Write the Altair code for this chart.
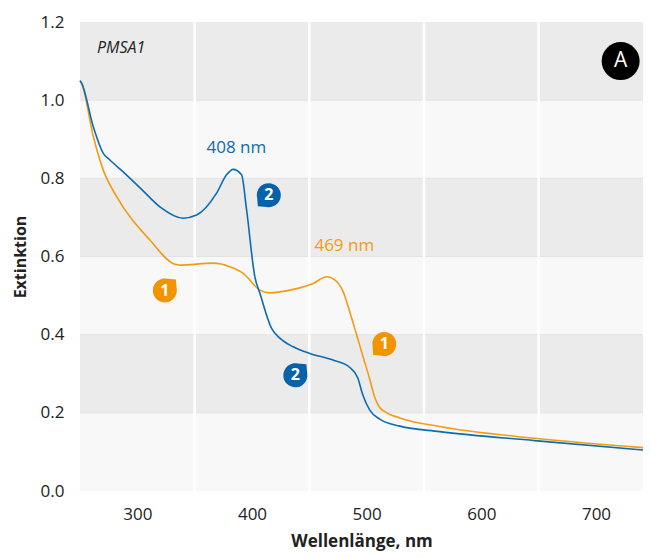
import altair as alt
import pandas as pd

# ---- data ----
blue_x = [250, 251.5, 261.6, 270.3, 276.1, 290, 305, 319.7, 340.0, 351.7, 369.1, 377.8, 383.6, 390.9,
          395.3, 402.5, 406.9, 417.1, 424.3, 435.9, 450.4, 470.7, 485.3, 492.3, 496.6, 502.7,
          511.4, 528.9, 563.7, 646.5, 741]
blue_y = [1.05, 1.043, 0.932, 0.864, 0.847, 0.810, 0.768, 0.727, 0.698, 0.706, 0.762, 0.809, 0.823, 0.809,
          0.719, 0.548, 0.506, 0.416, 0.391, 0.369, 0.352, 0.335, 0.316, 0.289, 0.246, 0.207,
          0.184, 0.166, 0.152, 0.129, 0.105]

orange_x = [250, 251.5, 261.6, 270.3, 282.0, 311.0, 332.8, 337.1, 366.2, 380.7, 392.3, 406.9, 415.6,
            433.0, 453.3, 465.0, 472.2, 479.5, 485.3, 491.1, 496.9, 502.7, 507.0, 511.0, 515.8, 528.9,
            563.7, 646.5, 741]
orange_y = [1.05, 1.043, 0.907, 0.821, 0.753, 0.642, 0.580, 0.578, 0.583, 0.574, 0.557, 0.514, 0.507,
            0.514, 0.531, 0.548, 0.540, 0.510, 0.458, 0.401, 0.343, 0.286, 0.240, 0.215, 0.203, 0.187,
            0.165, 0.135, 0.111]

band_lo = [0.0, 0.2, 0.4, 0.6, 0.8, 1.0]
band_hi = [0.2, 0.4, 0.6, 0.8, 1.0, 1.2]
band_col = ["#f8f8f8", "#ebebeb", "#f8f8f8", "#ebebeb", "#f8f8f8", "#ebebeb"]
hline_y = [0.2, 0.4, 0.6, 0.8, 1.0]
vline_x = [350, 450, 550, 650]

peak_text = ["408 nm", "469 nm"]
peak_x = [386.4, 480.5]
peak_y = [0.878, 0.627]
peak_col = ["#0a6cb5", "#f39c12"]

mark_lbl = ["1", "1", "2", "2"]
mark_x = [324.0, 515.4, 437.8, 414.7]
mark_y = [0.513, 0.376, 0.296, 0.757]
mark_col = ["#f29400", "#f29400", "#0862ab", "#0862ab"]
TAIL_TR = "M 0.92 -0.92 L 0.98 -0.2 A 1 1 0 1 1 0.2 -0.98 Z"
TAIL_BL = "M -0.92 0.92 L -0.98 0.2 A 1 1 0 1 1 -0.2 0.98 Z"
mark_shape = [TAIL_TR, TAIL_BL, TAIL_TR, TAIL_BL]

FONT = "Open Sans"
W, H = 563, 469
xs = alt.Scale(domain=[250, 741], nice=False, zero=False)
ys = alt.Scale(domain=[0, 1.2], nice=False, zero=False)

bands = pd.DataFrame({"y0": band_lo, "y1": band_hi, "c": band_col})
band_layer = alt.Chart(bands).mark_rect().encode(
    x=alt.value(0), x2=alt.value(W),
    y=alt.Y("y0:Q", scale=ys, axis=alt.Axis(
        values=[0, 0.2, 0.4, 0.6, 0.8, 1.0, 1.2], format=".1f", title="Extinktion",
        grid=False, ticks=False, domain=False, labelPadding=16, titlePadding=12,
        labelFontSize=17, titleFontSize=16, titleFontWeight="bold")),
    y2="y1:Q",
    color=alt.Color("c:N", scale=None),
)

hl = alt.Chart(pd.DataFrame({"y": hline_y})).mark_rule(color="#e2e2e2", strokeWidth=1).encode(
    y=alt.Y("y:Q", scale=ys))
vl = alt.Chart(pd.DataFrame({"x": vline_x})).mark_rule(color="white", strokeWidth=2.5).encode(
    x=alt.X("x:Q", scale=xs, axis=alt.Axis(
        values=[300, 400, 500, 600, 700], format="d", title="Wellenlänge, nm",
        grid=False, ticks=False, domain=False, labelPadding=15, titlePadding=11,
        labelFontSize=17, titleFontSize=17, titleFontWeight="bold")))

odf = pd.DataFrame({"x": orange_x, "y": orange_y})
bdf = pd.DataFrame({"x": blue_x, "y": blue_y})
oline = alt.Chart(odf).mark_line(color="#f39c12", strokeWidth=1.6, interpolate="monotone").encode(
    x=alt.X("x:Q", scale=xs), y=alt.Y("y:Q", scale=ys))
bline = alt.Chart(bdf).mark_line(color="#0a6cb5", strokeWidth=1.6, interpolate="monotone").encode(
    x=alt.X("x:Q", scale=xs), y=alt.Y("y:Q", scale=ys))

pdf = pd.DataFrame({"t": peak_text, "x": peak_x, "y": peak_y, "c": peak_col})
ptext = alt.Chart(pdf).mark_text(font=FONT, fontSize=17, baseline="middle", align="center").encode(
    x=alt.X("x:Q", scale=xs), y=alt.Y("y:Q", scale=ys), text="t:N",
    color=alt.Color("c:N", scale=None))

mdf = pd.DataFrame({"l": mark_lbl, "x": mark_x, "y": mark_y, "c": mark_col, "s": mark_shape})
mpts = alt.Chart(mdf).mark_point(filled=True, opacity=1, size=576, strokeWidth=0).encode(
    x=alt.X("x:Q", scale=xs), y=alt.Y("y:Q", scale=ys),
    color=alt.Color("c:N", scale=None), shape=alt.Shape("s:N", scale=None))
mtxt = alt.Chart(mdf).mark_text(font=FONT, fontSize=16, fontWeight="bold", color="white",
                                baseline="middle", align="center").encode(
    x=alt.X("x:Q", scale=xs), y=alt.Y("y:Q", scale=ys), text="l:N")

title_df = pd.DataFrame({"t": ["PMSA1"], "x": [264.8], "y": [1.134]})
ttl = alt.Chart(title_df).mark_text(font=FONT, fontSize=16, fontStyle="italic", color="#222",
                                    align="left", baseline="middle").encode(
    x=alt.X("x:Q", scale=xs), y=alt.Y("y:Q", scale=ys), text="t:N")

a_df = pd.DataFrame({"t": ["A"], "x": [721.5], "y": [1.10]})
acirc = alt.Chart(a_df).mark_point(shape="circle", filled=True, opacity=1, size=1444,
                                   color="black").encode(
    x=alt.X("x:Q", scale=xs), y=alt.Y("y:Q", scale=ys))
atxt = alt.Chart(a_df).mark_text(font=FONT, fontSize=21, color="white", align="center",
                                 baseline="middle").encode(
    x=alt.X("x:Q", scale=xs), y=alt.Y("y:Q", scale=ys), text="t:N")

chart = alt.layer(band_layer, hl, vl, oline, bline, ptext, mpts, mtxt, ttl, acirc, atxt).properties(
    width=W, height=H,
    padding={"left": 72, "top": 14, "right": 0, "bottom": 62},
    autosize=alt.AutoSizeParams(type="none"),
).configure_view(stroke=None).configure_axis(
    labelFont=FONT, titleFont=FONT, labelColor="#222", titleColor="#222"
)

chart.save("out.html", embed_options={"renderer": "svg", "actions": False})
